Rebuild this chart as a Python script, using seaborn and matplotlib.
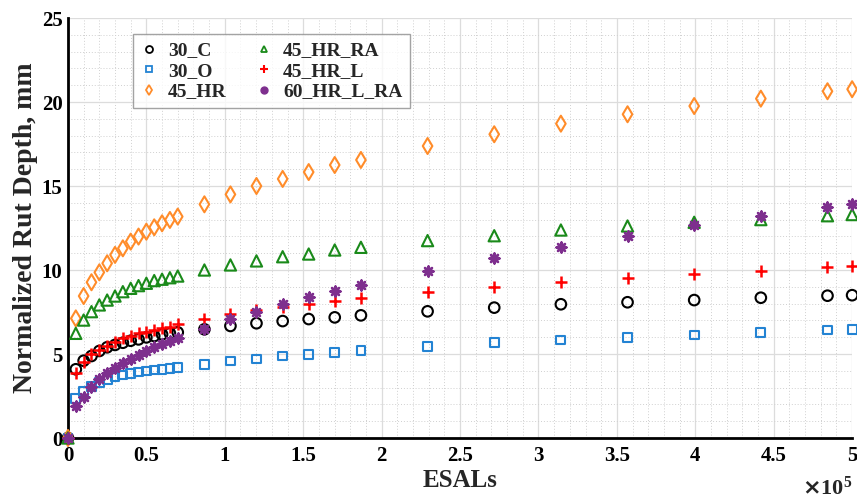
import numpy as np
import pandas as pd
import matplotlib
matplotlib.use("Agg")
import matplotlib.pyplot as plt
from matplotlib.lines import Line2D
from matplotlib.ticker import MultipleLocator
import seaborn as sns

# ============================================================
# Data
# ============================================================

ESALS = [0, 5000, 10000, 15000, 20000, 25000, 30000, 35000, 40000, 45000,
         50000, 55000, 60000, 65000, 70000, 87000, 103600, 120200, 136900,
         153500, 170100, 186800, 229300, 271800, 314300, 356800, 399300,
         441800, 484300, 500000]

RUT_30_C = [0, 4.09, 4.60, 4.88, 5.18, 5.40, 5.54, 5.67, 5.79, 5.87, 5.99,
            6.07, 6.17, 6.23, 6.29, 6.47, 6.67, 6.83, 6.96, 7.08, 7.18, 7.30,
            7.54, 7.76, 7.96, 8.08, 8.21, 8.35, 8.47, 8.50]
RUT_30_O = [0, 2.36, 2.76, 3.05, 3.29, 3.49, 3.65, 3.75, 3.85, 3.93, 3.99,
            4.05, 4.09, 4.13, 4.19, 4.39, 4.58, 4.70, 4.88, 4.98, 5.08, 5.20,
            5.44, 5.67, 5.83, 5.99, 6.13, 6.29, 6.43, 6.45]
RUT_45_HR = [0, 7.12, 8.45, 9.27, 9.86, 10.40, 10.90, 11.29, 11.69, 11.99,
             12.28, 12.54, 12.78, 12.98, 13.18, 13.91, 14.50, 15.00, 15.42,
             15.83, 16.25, 16.55, 17.38, 18.08, 18.71, 19.27, 19.76, 20.20,
             20.64, 20.76]
RUT_45_HR_RA = [0, 6.23, 7.02, 7.52, 7.92, 8.21, 8.45, 8.71, 8.91, 9.07,
                9.21, 9.37, 9.45, 9.54, 9.64, 10.00, 10.30, 10.54, 10.79,
                10.95, 11.19, 11.35, 11.75, 12.04, 12.38, 12.62, 12.84,
                13.00, 13.23, 13.30]
RUT_45_HR_L = [0, 3.89, 4.54, 5.00, 5.24, 5.50, 5.73, 5.93, 6.07, 6.23,
               6.33, 6.43, 6.53, 6.63, 6.77, 7.06, 7.38, 7.62, 7.78, 7.98,
               8.15, 8.31, 8.67, 9.01, 9.27, 9.54, 9.76, 9.96, 10.20, 10.25]
RUT_60_HR_L_RA = [0, 1.90, 2.46, 3.05, 3.49, 3.85, 4.15, 4.45, 4.70, 4.94,
                  5.18, 5.40, 5.60, 5.79, 5.97, 6.49, 7.06, 7.52, 7.98, 8.37,
                  8.75, 9.11, 9.96, 10.73, 11.39, 12.04, 12.68, 13.21, 13.73,
                  13.90]

MIXES = ["30_C", "30_O", "45_HR", "45_HR_RA", "45_HR_L", "60_HR_L_RA"]
SERIES = [RUT_30_C, RUT_30_O, RUT_45_HR, RUT_45_HR_RA, RUT_45_HR_L, RUT_60_HR_L_RA]

XTICK_LABELS = ["0", "0.5", "1", "1.5", "2", "2.5", "3", "3.5", "4", "4.5", "5"]
YTICK_LABELS = ["0", "5", "10", "15", "20", "25"]

# ============================================================
# Style config
# ============================================================

STYLE = {
    "30_C":       {"color": "#000000", "marker": "o", "size": 58, "open": True},
    "30_O":       {"color": "#2383d3", "marker": "s", "size": 40, "open": True},
    "45_HR":      {"color": "#ff8c2a", "marker": "d", "size": 66, "open": True},
    "45_HR_RA":   {"color": "#1a8a1a", "marker": "^", "size": 66, "open": True},
    "45_HR_L":    {"color": "#ff0000", "marker": "+", "size": 66, "open": False},
    "60_HR_L_RA": {"color": "#7e2f8e", "marker": (8, 2, 0), "size": 50, "open": False},
}

sns.set_style("white")
plt.rcParams["font.family"] = ["Liberation Serif", "DejaVu Serif"]
plt.rcParams["font.weight"] = "bold"

df = pd.concat(
    [pd.DataFrame({"ESALs": ESALS, "rut": vals, "mix": mix}) for mix, vals in zip(MIXES, SERIES)],
    ignore_index=True,
)

fig = plt.figure(figsize=(8.57, 5.0), dpi=100)
ax = fig.add_axes([0.0793, 0.124, 0.915, 0.84])

for mix in MIXES:
    cfg = STYLE[mix]
    sub = df[df["mix"] == mix]
    if cfg["open"]:
        sns.scatterplot(data=sub, x="ESALs", y="rut", ax=ax, marker=cfg["marker"],
                        s=cfg["size"], facecolor="none", edgecolor=cfg["color"],
                        linewidth=1.5, clip_on=False, zorder=3)
    else:
        sns.scatterplot(data=sub, x="ESALs", y="rut", ax=ax, marker=cfg["marker"],
                        s=cfg["size"], color=cfg["color"], edgecolor=cfg["color"],
                        linewidth=1.8, clip_on=False, zorder=3)

# axes, ticks, grid
ax.set_xlim(0, 500000)
ax.set_ylim(0, 25)
ax.set_xticks(np.linspace(0, 500000, len(XTICK_LABELS)))
ax.set_xticklabels(XTICK_LABELS)
ax.set_yticks(np.linspace(0, 25, len(YTICK_LABELS)))
ax.set_yticklabels(YTICK_LABELS)
ax.xaxis.set_minor_locator(MultipleLocator(10000))
ax.yaxis.set_minor_locator(MultipleLocator(1))

ax.grid(True, which="major", color="#dcdcdc", linewidth=0.9, linestyle="-")
ax.grid(True, which="minor", color="#d0d0d0", linewidth=0.7, linestyle=(0, (1, 2)))
ax.set_axisbelow(True)

ax.tick_params(which="major", direction="in", length=6, width=1.6, labelsize=15,
               pad=6, colors="black")
ax.tick_params(which="minor", length=0)
ax.tick_params(axis="y", pad=4)

for side in ["top", "right"]:
    ax.spines[side].set_visible(False)
for side in ["left", "bottom"]:
    ax.spines[side].set_linewidth(2.0)
    ax.spines[side].set_color("black")

ax.set_xlabel("ESALs", fontsize=18, fontweight="bold", labelpad=2)
ax.set_ylabel("Normalized Rut Depth, mm", fontsize=20, fontweight="bold")
ax.yaxis.set_label_coords(-0.038, 0.5)
ax.text(1.0, -0.147, r"$\times\mathregular{10^5}$", transform=ax.transAxes,
        fontsize=16, ha="right", va="bottom")

# legend with small markers, as in the original
handles = []
for mix in MIXES:
    cfg = STYLE[mix]
    if mix == "60_HR_L_RA":
        h = Line2D([], [], linestyle="none", marker="o", markersize=5,
                   color=cfg["color"])
    elif cfg["open"]:
        h = Line2D([], [], linestyle="none", marker=cfg["marker"], markersize=5,
                   markerfacecolor="none", markeredgecolor=cfg["color"],
                   markeredgewidth=1.3)
    else:
        h = Line2D([], [], linestyle="none", marker=cfg["marker"], markersize=6,
                   color=cfg["color"], markeredgewidth=1.5)
    handles.append(h)

leg = ax.legend(handles, MIXES, ncol=2, loc="upper left",
                bbox_to_anchor=(0.083, 0.962), frameon=True, fancybox=False,
                prop={"size": 14, "weight": "bold"}, handlelength=0.8,
                handletextpad=0.6, columnspacing=1.5, labelspacing=0.15,
                borderpad=0.4, borderaxespad=0)
leg.get_frame().set_edgecolor("#8c8c8c")
leg.get_frame().set_linewidth(1.0)

plt.savefig("out.png", dpi=100)
plt.close()
